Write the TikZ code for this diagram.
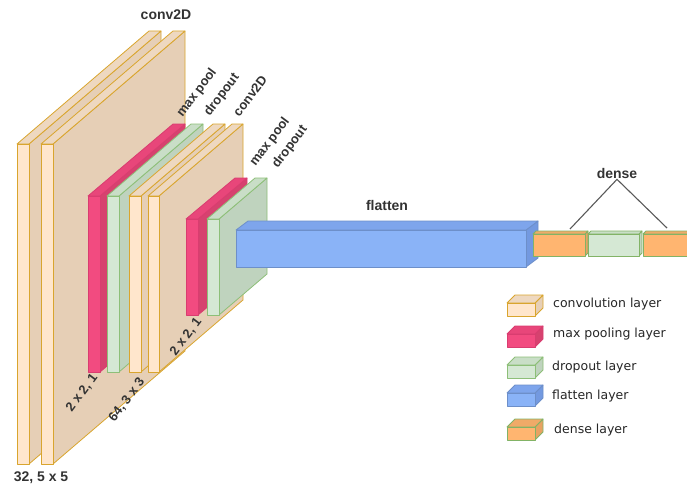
\documentclass[tikz,border=0pt]{standalone}
\usepackage{fontspec}
\setmainfont{Liberation Sans}
\newfontfamily\legfont{DejaVu Sans}
\definecolor{convF}{HTML}{FFE6CC}
\definecolor{convS}{HTML}{E6CFB6}
\definecolor{convT}{HTML}{EED8C0}
\definecolor{convL}{HTML}{D9A52E}
\definecolor{redF}{HTML}{F24B80}
\definecolor{redS}{HTML}{D6426F}
\definecolor{redT}{HTML}{E8467A}
\definecolor{redL}{HTML}{D93D70}
\definecolor{grnF}{HTML}{D5E8D4}
\definecolor{grnS}{HTML}{BFD3BE}
\definecolor{grnT}{HTML}{C9DEC7}
\definecolor{grnL}{HTML}{8DBF78}
\definecolor{bluF}{HTML}{8AB3F7}
\definecolor{bluS}{HTML}{7399E0}
\definecolor{bluT}{HTML}{7EA5EC}
\definecolor{bluL}{HTML}{6D8FC9}
\definecolor{denF}{HTML}{FFB570}
\definecolor{denS}{HTML}{E8A262}
\definecolor{denT}{HTML}{F0AA68}
\definecolor{denL}{HTML}{82B366}
\definecolor{txt}{HTML}{333333}
\tikzset{
  convfront/.style={fill=convF,draw=convL},
  convside/.style={fill=convS,draw=convL},
  convtop/.style={fill=convT,draw=convL},
  redfront/.style={fill=redF,draw=redL},
  redside/.style={fill=redS,draw=redL},
  redtop/.style={fill=redT,draw=redL},
  grnfront/.style={fill=grnF,draw=grnL},
  grnside/.style={fill=grnS,draw=grnL},
  grntop/.style={fill=grnT,draw=grnL},
  blufront/.style={fill=bluF,draw=bluL},
  bluside/.style={fill=bluS,draw=bluL},
  blutop/.style={fill=bluT,draw=bluL},
  denfront/.style={fill=denF,draw=denL},
  denside/.style={fill=denS,draw=denL},
  dentop/.style={fill=denT,draw=denL},
  dgfront/.style={fill=grnF,draw=denL},
  dgside/.style={fill=grnS,draw=denL},
  dgtop/.style={fill=grnT,draw=denL},
  lbl/.style={font=\bfseries\fontsize{14}{16}\selectfont,text=txt,inner sep=0pt},
  rlbl/.style={font=\bfseries\fontsize{13}{15}\selectfont,text=txt,inner sep=0pt,rotate=53},
  leg/.style={font=\legfont\fontsize{12.5}{15}\selectfont,text=black!85,inner sep=0pt,anchor=west},
}
% x0 y0 x1 y1 dx dy prefix
\newcommand{\cuboid}[7]{%
  \filldraw[#7side,line width=0.8pt,line join=round] (#3,#2) -- (#3,#4) -- ({#3+#5},{#4-#6}) -- ({#3+#5},{#2-#6}) -- cycle;
  \filldraw[#7top,line width=0.8pt,line join=round] (#1,#2) -- (#3,#2) -- ({#3+#5},{#2-#6}) -- ({#1+#5},{#2-#6}) -- cycle;
  \filldraw[#7front,line width=0.8pt,line join=round] (#1,#2) rectangle (#3,#4);
}
\begin{document}
\begin{tikzpicture}[x=1pt,y=-1pt]
\useasboundingbox (0,0) rectangle (687,487);
% first group
\cuboid{17}{144}{29}{464}{132}{113}{conv}
\cuboid{41}{144}{53}{464}{132}{113}{conv}
\cuboid{88}{196}{100}{372}{85}{72}{red}
\cuboid{107}{196}{119}{372}{84}{72}{grn}
\cuboid{129}{196}{141}{372}{84}{72}{conv}
\cuboid{148}{196}{159}{372}{84}{72}{conv}
\cuboid{186}{219}{198}{315}{49}{41}{red}
\cuboid{207}{219}{219}{315}{48}{41}{grn}
\cuboid{236}{230}{526}{267}{12}{9}{blu}
\cuboid{533}{234}{585}{256}{3}{3}{den}
\cuboid{588}{234}{639}{256}{3}{3}{dg}
\cuboid{643}{234}{695}{256}{3}{3}{den}
% labels
\node[lbl] (c2d1) at (166,15) {conv2D};
\node[lbl] (fl) at (387,205) {flatten};
\node[lbl] (dn) at (617,173) {dense};
\node[lbl] (k1) at (41,478) {32, 5 x 5};
\node[rlbl] (mp1) at (197,93) {max pool};
\node[rlbl] (do1) at (222,95) {dropout};
\node[rlbl] (c2d2) at (250,96) {conv2D};
\node[rlbl] (mp2) at (270,142) {max pool};
\node[rlbl] (do2) at (290,147) {dropout};
\node[rlbl] (p1) at (82,393) {2 x 2, 1};
\node[rlbl] (k2) at (127,400) {64, 3 x 3};
\node[rlbl] (p2) at (186,337) {2 x 2, 1};
\coordinate (dl) at (570,229);
\coordinate (dr) at (667,228);
\draw[black!65,line width=1.1pt] (dl) -- ([yshift=-1pt]dn.south) -- (dr);
% legend
\cuboid{507}{303}{535}{316}{8}{8}{conv}
\cuboid{507}{334}{535}{347}{8}{8}{red}
\cuboid{507}{365}{535}{378}{8}{8}{grn}
\cuboid{507}{393}{535}{406}{8}{8}{blu}
\cuboid{507}{427}{535}{440}{8}{8}{den}
\node[leg] (l1) at (553,304) {convolution layer};
\node[leg] (l2) at (553,334) {max pooling layer};
\node[leg] (l3) at (552,367) {dropout layer};
\node[leg] (l4) at (552,396) {flatten layer};
\node[leg] (l5) at (554,430) {dense layer};
\end{tikzpicture}
\end{document}
